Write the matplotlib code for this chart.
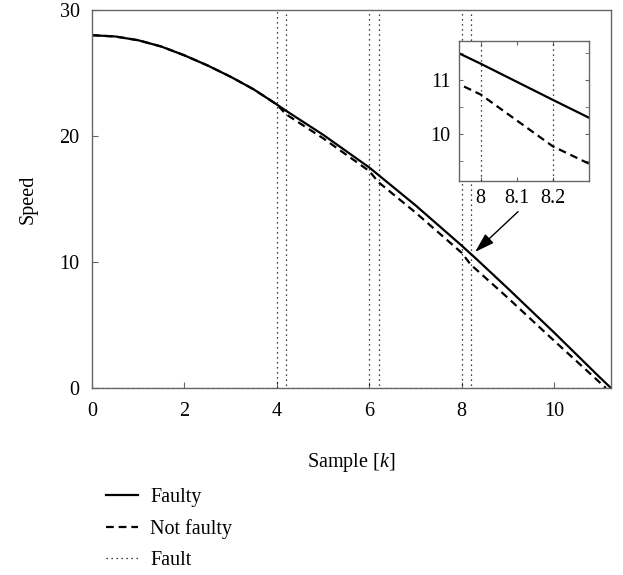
import matplotlib
matplotlib.use("Agg")
import matplotlib.pyplot as plt
from matplotlib.ticker import MultipleLocator

plt.rcParams["font.family"] = ["Liberation Serif", "DejaVu Serif"]
plt.rcParams["mathtext.fontset"] = "custom"
plt.rcParams["mathtext.it"] = "Liberation Serif:italic"
plt.rcParams["mathtext.rm"] = "Liberation Serif"

# speed of the faulty system
x_faulty = [0, 0.5, 1, 1.5, 2, 2.5, 3, 3.5, 4, 4.2, 5, 6, 6.2, 7, 8, 8.2, 8.3, 9, 10, 11, 11.23]
y_faulty = [28.0, 27.9, 27.6, 27.1, 26.4, 25.6, 24.7, 23.7, 22.5, 22.0, 20.1, 17.5, 16.9,
            14.5, 11.3, 10.63, 10.30, 7.9, 4.4, 0.8, 0.0]

# speed of the fault-free system
x_nominal = [0, 0.5, 1, 1.5, 2, 2.5, 3, 3.5, 4, 4.2, 5, 6, 6.2, 7, 8, 8.2, 8.3, 9, 10, 11.12]
y_nominal = [28.0, 27.9, 27.6, 27.1, 26.4, 25.6, 24.7, 23.7, 22.5, 21.72, 19.82, 17.22, 16.33,
             13.93, 10.73, 9.77, 9.45, 7.15, 3.75, 0.0]

# fault indicator (pulses between fault start and end)
x_fault = [0, 4, 4, 4.2, 4.2, 6, 6, 6.2, 6.2, 8, 8, 8.2, 8.2, 11.23]
y_fault = [0, 0, 100, 100, 0, 0, 100, 100, 0, 0, 100, 100, 0, 0]

fs = 14.5

fig = plt.figure(figsize=(6.23, 5.75), dpi=100)
ax = fig.add_axes([0.1477, 0.3252, 0.833, 0.6574])

ax.plot(x_faulty, y_faulty, color="black", linewidth=1.6, label="Faulty")
ax.plot(x_nominal, y_nominal, color="black", linewidth=1.6, linestyle=(0, (3.5, 2.2)),
        label="Not faulty")
ax.plot(x_fault, y_fault, color="black", linewidth=0.9, linestyle=(0, (1, 3)), label="Fault")

ax.set_xlim(0, 11.23)
ax.set_ylim(0, 30)
ax.set_xticks([0, 2, 4, 6, 8, 10])
ax.set_yticks([0, 10, 20, 30])
ax.tick_params(axis="both", direction="in", labelsize=fs, length=4, color="0.4")
ax.tick_params(axis="x", pad=10)
ax.tick_params(axis="y", pad=9)
ax.set_xlabel(r"Sample [$k$]", fontsize=fs, labelpad=22)
ax.set_ylabel("Speed", fontsize=fs, labelpad=16)
for sp in ax.spines.values():
    sp.set_color("0.4")
    sp.set_linewidth(1.0)

ax.annotate(
    "",
    xy=(8.29, 10.8),
    xytext=(9.22, 14.0),
    arrowprops=dict(arrowstyle="-|>,head_length=0.8,head_width=0.25", color="black",
                    linewidth=1.0, mutation_scale=15, shrinkA=0, shrinkB=0),
)

# zoomed inset around the third fault
ins = fig.add_axes([0.7368, 0.6852, 0.2087, 0.2435])
ins.plot(x_faulty, y_faulty, color="black", linewidth=1.6)
ins.plot(x_nominal, y_nominal, color="black", linewidth=1.6, linestyle=(0, (3.5, 2.2)))
ins.plot(x_fault, y_fault, color="black", linewidth=0.9, linestyle=(0, (1, 3)))
ins.set_xlim(7.94, 8.3)
ins.set_ylim(9.13, 11.72)
ins.set_xticks([8, 8.1, 8.2])
ins.set_xticklabels(["8", "8.1", "8.2"])
ins.xaxis.set_minor_locator(MultipleLocator(0.1))
ins.set_yticks([10, 11])
ins.yaxis.set_minor_locator(MultipleLocator(0.5))
ins.tick_params(axis="both", which="both", direction="in", labelsize=fs, length=3,
                top=True, right=True, pad=6, color="0.4")
for sp in ins.spines.values():
    sp.set_color("0.4")
    sp.set_linewidth(1.0)

fig.legend(
    loc="upper left",
    bbox_to_anchor=(0.157, 0.165),
    frameon=False,
    fontsize=fs,
    handlelength=1.6,
    labelspacing=0.6,
    handletextpad=0.6,
    borderaxespad=0,
)

fig.savefig("out.png", dpi=100)
